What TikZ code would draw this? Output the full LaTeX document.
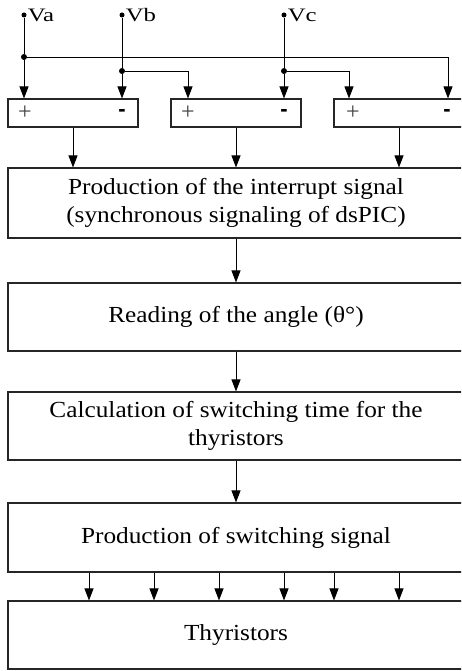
\documentclass[tikz,border=0pt]{standalone}
\usepackage{fontspec}
\setmainfont{Liberation Serif}
\newfontfamily\boxfont[FakeStretch=1.1]{Liberation Serif}
\newfontfamily\lblfont[FakeStretch=1.3]{Liberation Serif}
\newfontfamily\signfont{Liberation Sans}
\usetikzlibrary{arrows.meta, positioning}

\tikzset{
  wire/.style={line width=0.9pt},
  arr/.style={wire, -{Triangle[length=12pt,width=9pt]}},
  dot/.style={circle, fill, inner sep=0pt, minimum size=5pt},
  cmp/.style={draw=black!85, line width=1.1pt, minimum width=130pt, minimum height=28pt, inner sep=0pt},
  mainbox/.style={draw=black!85, line width=1.1pt, minimum width=456pt, minimum height=68pt,
                  inner sep=0pt, align=center, font=\boxfont\fontsize{23}{28}\selectfont},
  plus/.style={font=\fontsize{24}{24}\selectfont, text=black!75, inner sep=0pt},
  minus/.style={font=\signfont\bfseries\fontsize{22}{22}\selectfont, inner sep=0pt},
  lbl/.style={font=\lblfont\fontsize{19}{19}\selectfont, inner sep=1pt, anchor=west}
}

\begin{document}
\begin{tikzpicture}[x=1pt, y=-1pt]
    % frame of the picture
    \useasboundingbox (0,0) rectangle (461,671);
    \clip (0,0) rectangle (461,671);

    % Inputs:
    \node[dot] (va) at (24,15) {};
    \node[dot] (vb) at (122,15) {};
    \node[dot] (vc) at (284,15) {};
    \node[lbl] at (va.east) {Va};
    \node[lbl] at (vb.east) {Vb};
    \node[lbl] at (vc.east) {Vc};

    \node[dot, minimum size=6pt] (ja) at (24,57) {};
    \node[dot, minimum size=6pt] (jb) at (122,71) {};
    \node[dot, minimum size=6pt] (jc) at (284,71) {};

    % Comparators:
    \node[cmp] (c1) at (73,113) {};
    \node[cmp] (c2) at (236,113) {};
    \node[cmp] (c3) at (399,113) {};
    \node[plus] at (c1.center -| 25,0) {+};
    \node[minus] at (c1.center -| 122,0) {-};
    \node[plus] at (c2.center -| 188,0) {+};
    \node[minus] at (c2.center -| 284,0) {-};
    \node[plus] at (c3.center -| 353,0) {+};
    \node[minus] at (c3.center -| 447,0) {-};

    \draw[wire] (va) -- (ja);
    \draw[wire] (vb) -- (jb);
    \draw[wire] (vc) -- (jc);
    \draw[arr] (ja) -- (ja |- c1.north);
    \draw[arr] (jb) -- (jb |- c1.north);
    \draw[arr] (jc) -- (jc |- c2.north);
    \draw[arr] (ja) -| (c3.north -| 448,0);
    \draw[arr] (jb) -| (c2.north -| 188,0);
    \draw[arr] (jc) -| (c3.north -| 349,0);

    % Blocks:
    \node[mainbox, minimum height=70pt] (intr) at (236,203) {Production of the interrupt signal\\(synchronous signaling of dsPIC)};
    \node[mainbox] (angle) at (236,317) {Reading of the angle (θ°)};
    \node[mainbox] (calc) at (236,426) {Calculation of switching time for the\\thyristors};
    \node[mainbox, minimum height=69pt] (swsig) at (236,537.5) {Production of switching signal};
    \node[mainbox] (thy) at (236,635) {Thyristors};

    \draw[arr] (c1.south) -- (c1.south |- intr.north);
    \draw[arr] (c2.south) -- (c2.south |- intr.north);
    \draw[arr] (c3.south) -- (c3.south |- intr.north);
    \draw[arr] (intr) -- (angle);
    \draw[arr] (angle) -- (calc);
    \draw[arr] (calc) -- (swsig);
    \foreach \x in {89,154,219,284,334,399}
        \draw[arr] (swsig.south -| \x,0) -- (thy.north -| \x,0);
\end{tikzpicture}
\end{document}
